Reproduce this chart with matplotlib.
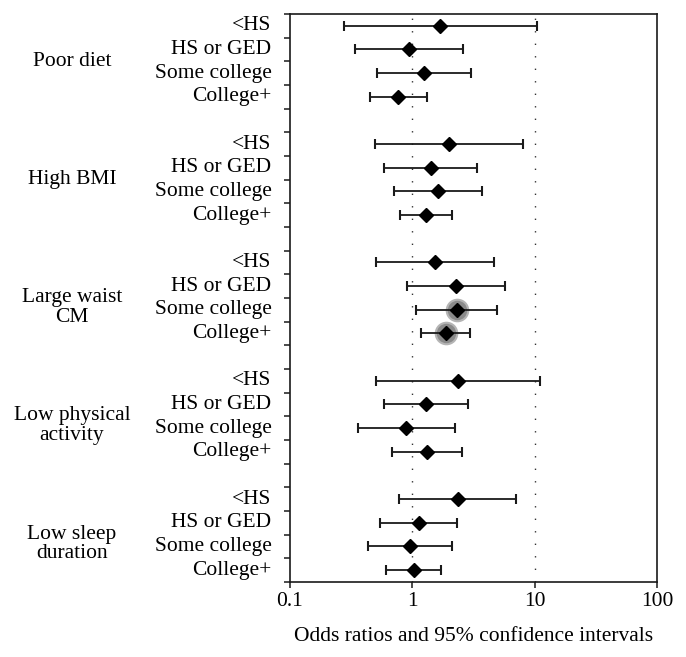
import numpy as np
import matplotlib.pyplot as plt
from matplotlib.patches import Rectangle
from matplotlib.transforms import blended_transform_factory

plt.rcParams['font.family'] = ['Liberation Serif', 'DejaVu Serif']

# risk factors and education levels
groups = ['Poor diet', 'High BMI', 'Large waist\nCM',
          'Low physical\nactivity', 'Low sleep\nduration']
levels = ['<HS', 'HS or GED', 'Some college', 'College+']

# odds ratios and 95% CI, one row per group, one entry per level
odds = [[1.69, 0.94, 1.24, 0.77],
        [1.99, 1.41, 1.63, 1.29],
        [1.54, 2.28, 2.31, 1.87],
        [2.37, 1.29, 0.89, 1.33],
        [2.37, 1.14, 0.96, 1.03]]
ci_low = [[0.275, 0.337, 0.514, 0.448],
          [0.498, 0.59, 0.707, 0.797],
          [0.504, 0.904, 1.08, 1.18],
          [0.504, 0.59, 0.357, 0.685],
          [0.782, 0.547, 0.436, 0.612]]
ci_high = [[10.4, 2.58, 2.99, 1.33],
           [8.01, 3.37, 3.70, 2.11],
           [4.67, 5.68, 4.88, 2.96],
           [10.96, 2.86, 2.23, 2.56],
           [7.02, 2.34, 2.12, 1.72]]
# significant estimates (highlighted)
signif = [[0, 0, 0, 0],
          [0, 0, 0, 0],
          [0, 0, 1, 1],
          [0, 0, 0, 0],
          [0, 0, 0, 0]]

xticks = [0.1, 1, 10, 100]
xticklabels = ['0.1', '1', '10', '100']

fig = plt.figure(figsize=(6.86, 6.57), dpi=100)
ax = fig.add_axes([0.4227, 0.1142, 0.535, 0.8645])

ink = '#1a1a1a'
n_per = len(levels) + 1
ylab = blended_transform_factory(ax.transAxes, ax.transData)

for g, name in enumerate(groups):
    ys = np.arange(len(levels)) + g * n_per + 0.5
    o = np.array(odds[g])
    lo = np.array(ci_low[g])
    hi = np.array(ci_high[g])
    sig = np.array(signif[g], dtype=bool)
    ax.plot(o[sig], ys[sig], 'o', ms=17, color='#b5b5b5', mec='none', zorder=2)
    ax.plot(o[sig], ys[sig], 'o', ms=14, color='#8a8a8a', mec='none', zorder=2)
    ax.errorbar(o, ys, xerr=[o - lo, hi - o], fmt='none', ecolor=ink,
                elinewidth=1.3, capsize=3.6, capthick=1.5, zorder=3)
    ax.plot(o, ys, 'D', ms=7.5, color='black', mec='black', zorder=4)
    for y, lev in zip(ys, levels):
        ax.text(-0.05, y, lev, transform=ylab, ha='right', va='center',
                fontsize=15.5)
    yc = g * n_per + 2 + (0.4 if '\n' in name else 0)
    ax.text(-0.594, yc, name, transform=ylab, ha='center', va='center',
            fontsize=15.5, linespacing=1.05)

for v in [1, 10]:
    ax.axvline(v, color='#333333', lw=1.0, dashes=(1, 8), zorder=1)

ax.set_xscale('log')
ax.set_xlim(0.1, 100)
ax.set_ylim(len(groups) * n_per - 1, 0)
ax.set_xticks(xticks)
ax.set_xticklabels(xticklabels, fontsize=15.5)
ax.minorticks_off()
ax.set_yticks(np.arange(0, len(groups) * n_per))
ax.set_yticklabels([])
ax.tick_params(axis='y', direction='out', length=4, width=1.1, color=ink)
ax.tick_params(axis='x', direction='out', length=4, width=1.1, color=ink, pad=3)
for s in ax.spines.values():
    s.set_linewidth(1.2)
    s.set_color(ink)

ax.set_xlabel('Odds ratios and 95% confidence intervals', fontsize=15.5, labelpad=12)

# bottom edge of the original image is cropped
fig.add_artist(Rectangle((0, 0), 1, 15 / 657, transform=fig.transFigure,
                         color='white', zorder=10))

fig.savefig('out.png', dpi=100)
